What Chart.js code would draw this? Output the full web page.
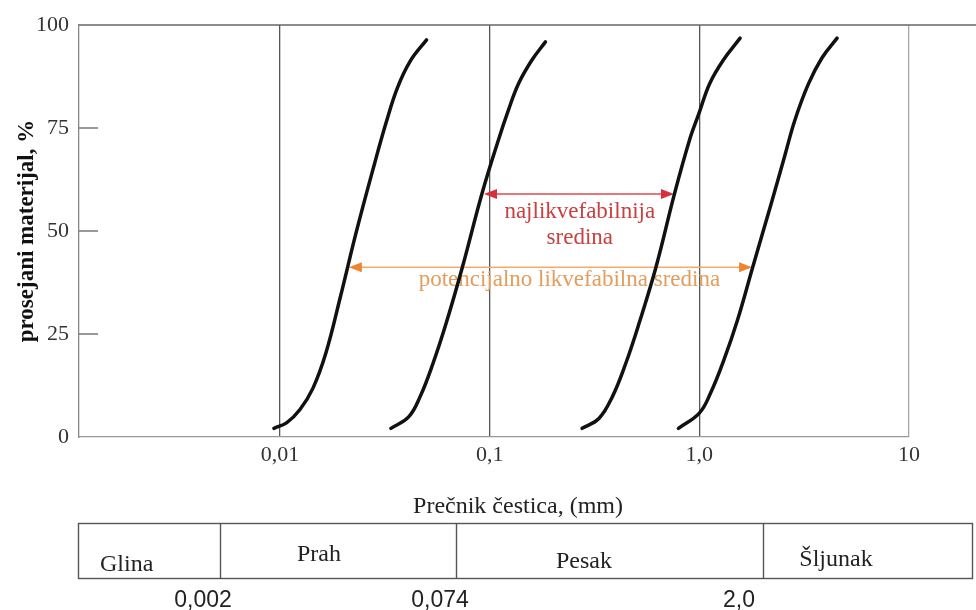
<!DOCTYPE html>
<html>
<head>
<meta charset="utf-8">
<script src="https://cdn.jsdelivr.net/npm/chart.js@4.4.0/dist/chart.umd.min.js"></script>
<style>
  html, body { margin: 0; background: #fff; }
  #wrap { position: relative; width: 976px; height: 610px; }
</style>
</head>
<body>
<div id="wrap"><canvas id="grainChart"></canvas></div>
<script>
const xTickValues = [0.01, 0.1, 1, 10];
const xTickLabels = ['0,01', '0,1', '1,0', '10'];

// grading curves: diameter (mm) / percent passing
const curveAX = [0.00935, 0.01078, 0.01243, 0.01435, 0.01654, 0.01943, 0.02323, 0.02826, 0.03203, 0.03627, 0.04187, 0.0500];
const curveAY = [2.1, 3.5, 6.6, 11.8, 20.3, 34.1, 50.2, 66.4, 76.2, 84.7, 91.3, 96.4];
const curveBX = [0.0338, 0.0411, 0.0466, 0.0537, 0.0620, 0.0741, 0.0918, 0.1101, 0.1230, 0.1374, 0.1591, 0.1845];
const curveBY = [2.1, 4.9, 9.8, 17.9, 27.6, 41.2, 59.0, 72.1, 79.4, 85.8, 91.5, 95.9];
const curveCX = [0.276, 0.332, 0.385, 0.446, 0.516, 0.621, 0.761, 0.898, 0.997, 1.121, 1.302, 1.565];
const curveCY = [2.1, 4.5, 9.8, 17.9, 27.6, 41.2, 59.0, 72.1, 78.6, 85.8, 91.5, 96.8];
const curveDX = [0.795, 1.0, 1.130, 1.310, 1.521, 1.797, 2.203, 2.554, 2.855, 3.314, 3.842, 4.539];
const curveDY = [2.1, 5.8, 10.6, 18.7, 28.4, 41.2, 56.7, 68.2, 76.9, 85.7, 92.0, 96.8];

// ranges marked by arrows
const redArrowRange = [0.094, 0.757];
const redArrowLevel = 59;
const redLabel = ['najlikvefabilnija', 'sredina'];
const redLabelAt = [0.269, 54.6, 48.3];
const orangeArrowRange = [0.0213, 1.785];
const orangeArrowLevel = 41.2;
const orangeLabel = 'potencijalno likvefabilna sredina';
const orangeLabelAt = [0.24, 38.1];

// soil classification strip under the chart
const soilClasses = ['Glina', 'Prah', 'Pesak', 'Šljunak'];
const classLimits = ['0,002', '0,074', '2,0'];

const serif = '"Liberation Serif", "Times New Roman", serif';
const sans = '"Liberation Sans", Arial, sans-serif';

function toPoints(xs, ys) {
  return xs.map((x, i) => ({ x, y: ys[i] }));
}

function drawArrow(ctx, x1, x2, y, lineColor, headColor) {
  ctx.save();
  ctx.strokeStyle = lineColor;
  ctx.lineWidth = 1.5;
  ctx.beginPath();
  ctx.moveTo(x1 + 8, y);
  ctx.lineTo(x2 - 8, y);
  ctx.stroke();
  ctx.fillStyle = headColor;
  ctx.beginPath();
  ctx.moveTo(x1, y); ctx.lineTo(x1 + 13, y - 5); ctx.lineTo(x1 + 13, y + 5); ctx.closePath();
  ctx.moveTo(x2, y); ctx.lineTo(x2 - 13, y - 5); ctx.lineTo(x2 - 13, y + 5); ctx.closePath();
  ctx.fill();
  ctx.restore();
}

const annotations = {
  id: 'annotations',
  beforeDatasetsDraw(chart) {
    const { ctx, scales: { x, y } } = chart;
    drawArrow(ctx, x.getPixelForValue(redArrowRange[0]), x.getPixelForValue(redArrowRange[1]),
      y.getPixelForValue(redArrowLevel), '#dd4a4a', '#d8303a');
    drawArrow(ctx, x.getPixelForValue(orangeArrowRange[0]), x.getPixelForValue(orangeArrowRange[1]),
      y.getPixelForValue(orangeArrowLevel), '#f2ab6c', '#ec8430');

    ctx.save();
    ctx.textAlign = 'center';
    ctx.textBaseline = 'middle';
    ctx.font = '23px ' + serif;
    ctx.fillStyle = '#c8403f';
    ctx.fillText(redLabel[0], x.getPixelForValue(redLabelAt[0]), y.getPixelForValue(redLabelAt[1]));
    ctx.fillText(redLabel[1], x.getPixelForValue(redLabelAt[0]), y.getPixelForValue(redLabelAt[2]));
    ctx.fillStyle = '#e39d5c';
    ctx.fillText(orangeLabel, x.getPixelForValue(orangeLabelAt[0]), y.getPixelForValue(orangeLabelAt[1]));
    ctx.restore();
  },
  afterDraw(chart) {
    const { ctx, chartArea: area, scales: { y } } = chart;
    ctx.save();
    // top frame line runs past the plot to the right edge
    ctx.strokeStyle = '#666';
    ctx.lineWidth = 1.5;
    ctx.beginPath();
    ctx.moveTo(area.left, area.top);
    ctx.lineTo(chart.width, area.top);
    ctx.stroke();

    // inner tick marks on the y axis
    ctx.strokeStyle = '#777';
    ctx.lineWidth = 1.5;
    y.ticks.forEach(t => {
      if (t.value === 0 || t.value === 100) return;
      const py = y.getPixelForValue(t.value);
      ctx.beginPath();
      ctx.moveTo(area.left, py);
      ctx.lineTo(area.left + 19, py);
      ctx.stroke();
    });

    // x axis title
    ctx.fillStyle = '#222';
    ctx.font = '24px ' + serif;
    ctx.textAlign = 'center';
    ctx.textBaseline = 'alphabetic';
    ctx.fillText('Prečnik čestica, (mm)', 518, 513);

    // classification strip
    ctx.strokeStyle = '#555';
    ctx.lineWidth = 1.4;
    ctx.strokeRect(78.5, 523.5, 894, 55);
    [220, 456, 763].forEach(px => {
      ctx.beginPath();
      ctx.moveTo(px + 0.5, 523.5);
      ctx.lineTo(px + 0.5, 578.5);
      ctx.stroke();
    });
    ctx.fillStyle = '#222';
    ctx.font = '24px ' + serif;
    ctx.textAlign = 'left';
    ctx.fillText(soilClasses[0], 100, 571);
    ctx.textAlign = 'center';
    ctx.fillText(soilClasses[1], 319, 561);
    ctx.fillText(soilClasses[2], 584, 568);
    ctx.fillText(soilClasses[3], 836, 566);

    ctx.font = '23px ' + sans;
    ctx.fillText(classLimits[0], 203, 607);
    ctx.fillText(classLimits[1], 440, 607);
    ctx.fillText(classLimits[2], 739, 607);
    ctx.restore();
  }
};

const curveStyle = {
  borderColor: '#111',
  borderWidth: 3.5,
  pointRadius: 0,
  fill: false,
  tension: 0.4,
  borderCapStyle: 'round'
};

new Chart(document.getElementById('grainChart'), {
  type: 'line',
  data: {
    datasets: [
      { label: 'A', data: toPoints(curveAX, curveAY), ...curveStyle },
      { label: 'B', data: toPoints(curveBX, curveBY), ...curveStyle },
      { label: 'C', data: toPoints(curveCX, curveCY), ...curveStyle },
      { label: 'D', data: toPoints(curveDX, curveDY), ...curveStyle }
    ]
  },
  options: {
    responsive: true,
    maintainAspectRatio: false,
    animation: false,
    layout: { padding: { top: 25, right: 67, bottom: 128, left: 0 } },
    plugins: {
      legend: { display: false },
      tooltip: { enabled: false }
    },
    scales: {
      x: {
        type: 'logarithmic',
        min: 0.0011,
        max: 10,
        afterBuildTicks: s => { s.ticks = xTickValues.map(v => ({ value: v })); },
        afterFit: s => { s.height = 45; },
        ticks: {
          autoSkip: false,
          maxRotation: 0,
          padding: 5,
          color: '#333',
          font: { family: serif, size: 22 },
          callback: v => xTickLabels[xTickValues.indexOf(v)]
        },
        grid: {
          drawTicks: false,
          lineWidth: 1.3,
          color: c => (c.tick && c.tick.value === 10 ? '#a8a8a8' : '#555')
        },
        border: { color: '#999', width: 1.3 }
      },
      y: {
        min: 0,
        max: 100,
        afterFit: s => { s.width = 79; },
        ticks: {
          stepSize: 25,
          padding: 10,
          color: '#333',
          font: { family: serif, size: 22 }
        },
        grid: { display: false, drawTicks: false },
        border: { color: '#888', width: 1.3 },
        title: {
          display: true,
          text: 'prosejani materijal, %',
          color: '#111',
          padding: { top: 13 },
          font: { family: serif, size: 23, weight: 'bold' }
        }
      }
    }
  },
  plugins: [annotations]
});
</script>
</body>
</html>
